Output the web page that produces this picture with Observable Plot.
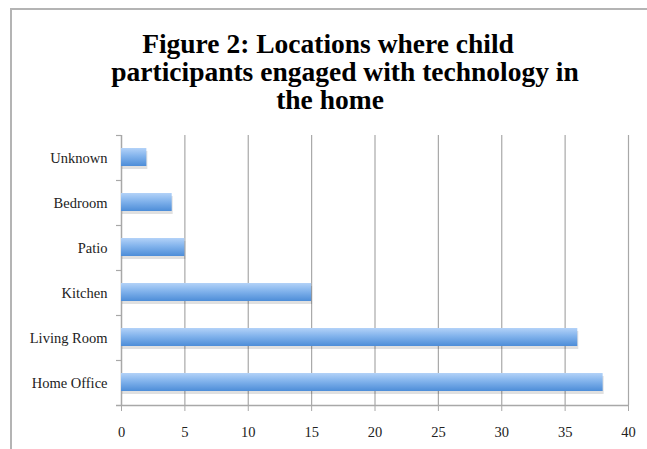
<!DOCTYPE html>
<html>
<head>
<meta charset="utf-8">
<script src="https://cdn.jsdelivr.net/npm/d3@7"></script>
<script src="https://cdn.jsdelivr.net/npm/@observablehq/plot@0.6"></script>
<style>
  html, body { margin: 0; padding: 0; background: #fff; }
  body { width: 647px; height: 449px; position: relative; overflow: hidden; }
  #frame { position: absolute; left: 10px; top: 8px; right: -5px; bottom: -5px;
           border-left: 2px solid #b4b4b4; border-top: 2px solid #b4b4b4; }
  #title { position: absolute; left: 0; top: 0; width: 660px; height: 125px;
           text-align: center; font-family: "Liberation Serif", serif; font-weight: bold;
           font-size: 27.5px; line-height: 28px; color: #000; padding-top: 30px; box-sizing: border-box; }
  #title div { white-space: nowrap; }
  #chart { position: absolute; left: 0; top: 125px; }
</style>
</head>
<body>
<div id="frame"></div>
<div id="title">
  <div style="margin-left:-4px">Figure 2: Locations where child</div>
  <div style="margin-left:30px">participants engaged with technology in</div>
  <div style="margin-left:0px">the home</div>
</div>
<div id="chart"></div>
<script>
const categories = ["Unknown", "Bedroom", "Patio", "Kitchen", "Living Room", "Home Office"];
const values = [2, 4, 5, 15, 36, 38];
const xTicks = [0, 5, 10, 15, 20, 25, 30, 35, 40];

const data = categories.map((c, i) => ({category: c, value: values[i]}));
const grid = "#a8a8a8";

const plot = Plot.plot({
  width: 647,
  height: 324,
  marginTop: 10,
  marginBottom: 44,
  marginLeft: 121,
  marginRight: 19,
  style: {fontFamily: "'Liberation Serif', serif", fontSize: "14.5px", color: "#222", background: "transparent"},
  x: {domain: [0, 40], label: null},
  y: {domain: categories, padding: 0, label: null},
  marks: [
    Plot.ruleX(xTicks.filter(d => d > 0), {stroke: grid, strokeWidth: 1.2}),
    Plot.ruleX([0], {stroke: grid, strokeWidth: 1.5}),
    Plot.ruleY(categories, {y: d => d, dy: -22.5, x1: 0, x2: 0, insetLeft: -5, stroke: grid, strokeWidth: 1.2}),
    Plot.ruleY(categories.slice(-1), {y: d => d, dy: 22.5, x1: 0, x2: 40, insetLeft: -5, stroke: grid, strokeWidth: 1.5}),
    Plot.barX(data, {y: "category", x: "value", insetTop: 14, insetBottom: 13, dy: 2, dx: 1, fill: "#000", fillOpacity: 0.12}),
    Plot.barX(data, {y: "category", x: "value", insetTop: 13, insetBottom: 14, fill: "url(#barGrad)"}),
    Plot.axisX({ticks: xTicks, tickSize: 6, tickPadding: 15, stroke: grid, fill: "#222", fontSize: 14.5, label: null}),
    Plot.axisY({tickSize: 0, tickPadding: 14, fill: "#222", fontSize: 14.5, label: null})
  ]
});

const svg = d3.select(plot);
const defs = svg.insert("defs", ":first-child");
const g = defs.append("linearGradient").attr("id", "barGrad").attr("x1", 0).attr("y1", 0).attr("x2", 0).attr("y2", 1);
g.append("stop").attr("offset", "0%").attr("stop-color", "#b3d2f8");
g.append("stop").attr("offset", "45%").attr("stop-color", "#82b3ec");
g.append("stop").attr("offset", "100%").attr("stop-color", "#4d8dd8");

document.getElementById("chart").appendChild(plot);
</script>
</body>
</html>
